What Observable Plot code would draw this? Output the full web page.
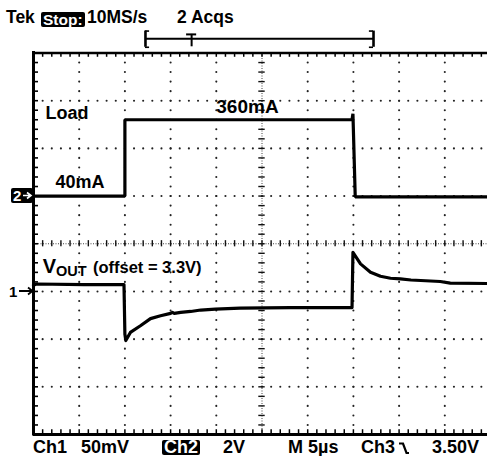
<!DOCTYPE html>
<html><head><meta charset="utf-8">
<script src="https://cdn.jsdelivr.net/npm/d3@7"></script>
<script src="https://cdn.jsdelivr.net/npm/@observablehq/plot@0.6"></script>
<style>
body{margin:0;background:#fff;}
#wrap{position:relative;width:487px;height:456px;overflow:hidden;font-family:"Liberation Sans",Arial,sans-serif;font-weight:bold;color:#000;background:#fff;}
#wrap > svg{position:absolute;left:0;top:0;}
.t{position:absolute;white-space:nowrap;}
.h{font-size:17.5px;line-height:17.5px;top:8.7px;}
.h.inv{font-size:15.5px;line-height:15px;top:11.5px;padding:0 2px;}
.f{font-size:18px;line-height:15px;top:439.8px;}
.inv{background:#000;color:#fff;padding:0 2px;border-radius:2px;}
</style></head><body><div id="wrap"></div>
<script>
// ---- data (time in µs, 5 µs/div) ----
const loadTime = [0, 10, 10, 34.85, 34.95, 35.2, 50];
const loadMa   = [40, 40, 360, 360, 385, 37, 37];
const voutTime = [0, 0.3, 5.5, 9.9, 10.0, 10.1, 10.6, 11.7, 12.8, 13.9, 15.0, 15.2, 15.4, 16.1, 17.2, 18.3, 19.9, 22.6, 28.1, 34.85, 34.95, 35.78, 36.87, 37.96, 39.06, 40.15, 41.3, 44.5, 45.6, 50];
const voutMv   = [6.5, 7.8, 7.2, 7.2, -45, -51.5, -43, -36, -28.5, -25.5, -23, -22, -23, -22, -21, -19.5, -18.5, -17.4, -16.9, -16.9, 41, 28.9, 20.1, 15.9, 13.8, 13.2, 12.0, 10.4, 8.8, 8.3];
const headerLabels = ["Tek", "Stop:", "10MS/s", "2 Acqs"];
const footerLabels = ["Ch1", "50mV", "Ch2", "2V", "M 5µs", "Ch3", "3.50V"];
const loadLabels = ["Load", "40mA", "360mA"];
const voutLabel = ["V", "OUT", "(offset = 3.3V)"];

// channel settings (per division)
const loadMaPerDiv = 200, loadRefDiv = 1, loadRefMa = 40;   // ch2 marker
const voutMvPerDiv = 50, voutRefDiv = -1;                    // ch1 marker (3.3 V)

const load = loadTime.map((t, i) => ({t, d: loadRefDiv + (loadMa[i] - loadRefMa) / loadMaPerDiv}));
const vout = voutTime.map((t, i) => ({t, d: voutRefDiv + voutMv[i] / voutMvPerDiv}));

// ---- graticule ----
const gridDots = [];
for (let k = 1; k <= 9; k++) { if (k === 5) continue; for (let j = -20; j <= 20; j++) gridDots.push({t: k * 5, d: j / 5}); }
for (let k = -3; k <= 3; k++) { if (k === 0) continue; for (let j = 1; j < 50; j++) gridDots.push({t: j, d: k}); }
const minorT = d3.range(1, 50);
const minorD = d3.range(-19, 20).map(j => j / 5);

const F = "Liberation Sans";
const lab = (txt, x, y, size) => Plot.text([txt], {x, y, text: d => d, textAnchor: "start", lineAnchor: "bottom", fontSize: size, fontWeight: "bold", fontFamily: F, fill: "#000"});
const plot = Plot.plot({
  width: 487, height: 456, margin: 0,
  x: {domain: [0, 50], range: [33, 490], axis: null},
  y: {domain: [-4, 4], range: [434, 52.5], axis: null},
  style: {background: "transparent", overflow: "visible"},
  marks: [
    Plot.dot(gridDots, {x: "t", y: "d", r: 1.05, fill: "#222", stroke: null}),
    // center cross
    Plot.ruleY([0], {x1: 0, x2: 50, stroke: "#444", strokeWidth: 1, strokeDasharray: "1,1.5"}),
    Plot.ruleX([25], {y1: -4, y2: 4, stroke: "#444", strokeWidth: 1, strokeDasharray: "1,1.5"}),
    Plot.ruleX(minorT, {x: d => d, y1: -0.065, y2: 0.065, stroke: "#111", strokeWidth: 1.4}),
    Plot.ruleY(minorD, {y: d => d, x1: 24.65, x2: 25.35, stroke: "#111", strokeWidth: 1.4}),
    // frame ticks
    Plot.ruleX(minorT, {x: d => d, y1: 4, y2: 3.91, stroke: "#000", strokeWidth: 1.5}),
    Plot.ruleX(minorT, {x: d => d, y1: -4, y2: -3.9, stroke: "#000", strokeWidth: 1.5}),
    Plot.ruleY(minorD, {y: d => d, x1: 0, x2: 0.55, stroke: "#000", strokeWidth: 1.6}),
    // frame
    Plot.ruleY([4], {x1: 0, x2: 50, stroke: "#000", strokeWidth: 2.5}),
    Plot.ruleY([-4], {x1: 0, x2: 50, stroke: "#000", strokeWidth: 3}),
    Plot.ruleX([0], {y1: -4.03, y2: 4.03, stroke: "#000", strokeWidth: 3}),
    // record bracket with trigger marker
    Plot.ruleY([4.30], {x1: 12.25, x2: 37.2, stroke: "#000", strokeWidth: 2}),
    Plot.ruleX([12.25, 37.2], {x: d => d, y1: 4.12, y2: 4.46, stroke: "#000", strokeWidth: 2.6}),
    Plot.ruleY([4.46, 4.12], {y: d => d, x1: 12.25, x2: 12.7, stroke: "#000", strokeWidth: 1.6}),
    Plot.ruleY([4.46, 4.12], {y: d => d, x1: 36.75, x2: 37.2, stroke: "#000", strokeWidth: 1.6}),
    Plot.ruleX([17.3], {x: d => d, y1: 4.13, y2: 4.39, stroke: "#000", strokeWidth: 2}),
    Plot.ruleY([4.39], {x1: 16.75, x2: 17.85, stroke: "#000", strokeWidth: 2}),
    // traces
    Plot.line(load, {x: "t", y: "d", stroke: "#000", strokeWidth: 3.2, strokeLinejoin: "miter"}),
    Plot.line(vout, {x: "t", y: "d", stroke: "#000", strokeWidth: 3.2, strokeLinejoin: "round"}),
    // labels
    lab(loadLabels[0], 1.31, 2.626, 18),
    lab(loadLabels[1], 2.41, 1.159, 18),
    lab(loadLabels[2], 20.0, 2.75, 19),
    lab(voutLabel[0], 1.0, -0.603, 20),
    lab(voutLabel[1], 2.45, -0.68, 14.5),
    lab(voutLabel[2], 6.5, -0.603, 16.5)
  ]
});
const wrap = document.getElementById("wrap");
wrap.appendChild(plot);

// ---- scope chrome (header, footer, channel markers) ----
function span(txt, left, cls) {
  const s = document.createElement("span");
  s.className = "t " + cls;
  s.textContent = txt; s.style.left = left + "px";
  wrap.appendChild(s); return s;
}
const hx = [6, 41, 87, 177];
headerLabels.forEach((l, i) => span(l, hx[i], i === 1 ? "h inv" : "h"));
const fx = [33, 81, 162, 223, 288, 361, 432];
footerLabels.forEach((l, i) => span(l, fx[i], i === 2 ? "f inv" : "f"));

const ns = "http://www.w3.org/2000/svg";
const ov = document.createElementNS(ns, "svg");
ov.setAttribute("width", 487); ov.setAttribute("height", 456);
ov.style.pointerEvents = "none";
ov.innerHTML = `
  <rect x="11" y="188" width="22" height="15" rx="2" fill="#000"/>
  <text x="13" y="201" fill="#fff" font-family="Liberation Sans" font-weight="bold" font-size="15">2</text>
  <path d="M23,195.5 H30 M27,192.5 L31,195.5 L27,198.5" stroke="#fff" stroke-width="1.6" fill="none"/>
  <text x="9" y="297" fill="#000" font-family="Liberation Sans" font-weight="bold" font-size="15">1</text>
  <path d="M19,291 H32 M28,287.5 L32.5,291 L28,294.5" stroke="#000" stroke-width="1.8" fill="none"/>
  <path d="M399,443.5 H403 L406.5,453 H409" stroke="#000" stroke-width="2.2" fill="none"/>
`;
wrap.appendChild(ov);
</script>
</body></html>
